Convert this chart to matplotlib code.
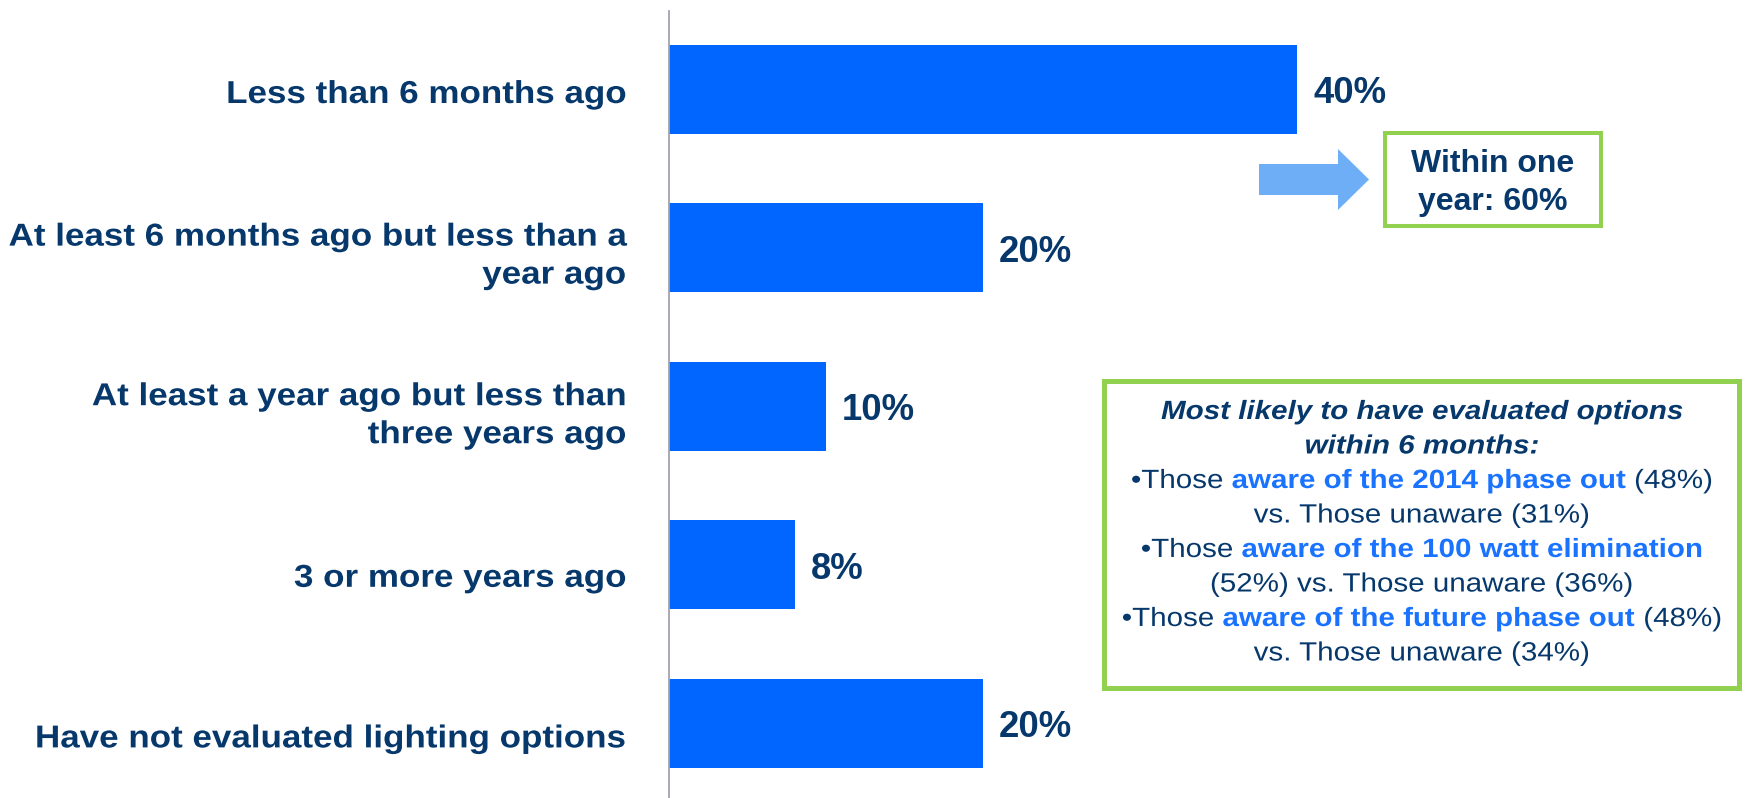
import matplotlib
matplotlib.use("Agg")
import matplotlib.pyplot as plt
from matplotlib.patches import Rectangle, FancyArrow
from matplotlib.patheffects import AbstractPathEffect
from matplotlib.transforms import Affine2D
from matplotlib.font_manager import FontProperties

# ---------------------------------------------------------------- data
categories = [
    "Less than 6 months ago",
    "At least 6 months ago but less than a\nyear ago",
    "At least a year ago but less than\nthree years ago",
    "3 or more years ago",
    "Have not evaluated lighting options",
]
values = [40, 20, 10, 8, 20]

note_title = ["Most likely to have evaluated options", "within 6 months:"]
# each line: list of (text, highlighted?)
note_lines = [
    [("\u2022Those ", False), ("aware of the 2014 phase out ", True), ("(48%)", False)],
    [("vs. Those unaware (31%)", False)],
    [("\u2022Those ", False), ("aware of the 100 watt elimination", True)],
    [("(52%) vs. Those unaware (36%)", False)],
    [("\u2022Those ", False), ("aware of the future phase out ", True), ("(48%)", False)],
    [("vs. Those unaware (34%)", False)],
]

# ---------------------------------------------------------------- style
W, H, DPI = 1745, 798, 100
NAVY = "#06386C"
BAR = "#0066FF"
HILITE = "#1A73FF"
GREEN = "#92D050"
ARROW = "#6DAEF7"
AXIS_GREY = "#A3A3AD"
FONT = "Liberation Sans"


class WidenText(AbstractPathEffect):
    """Stretch rendered text horizontally about a fixed display x."""

    def __init__(self, sx, x0):
        super().__init__()
        self.sx = sx
        self.x0 = x0

    def draw_path(self, renderer, gc, tpath, affine, rgbFace=None):
        stretch = Affine2D().translate(-self.x0, 0).scale(self.sx, 1).translate(self.x0, 0)
        renderer.draw_path(gc, tpath, affine + stretch, rgbFace)


fig = plt.figure(figsize=(W / DPI, H / DPI), dpi=DPI)
fig.patch.set_facecolor("white")

# pixel coordinates, origin at top-left
pix = Affine2D().scale(1 / W, -1 / H).translate(0, 1) + fig.transFigure

# ---------------------------------------------------------------- bars
AX_L, AX_T = 669, 11
PX_PER_PCT = 15.7
ROW0, ROW_STEP = 89, 158.6
BAR_PX = 89

ax = fig.add_axes([AX_L / W, 0, (W - AX_L) / W, (H - AX_T) / H])
ax.set_facecolor("none")
pos = list(range(len(values)))
ax.barh(pos, values, height=BAR_PX / ROW_STEP, color=BAR, zorder=2)
ax.set_xlim(0, (W - AX_L) / PX_PER_PCT)
ax.set_ylim((H - ROW0) / ROW_STEP, (AX_T - ROW0) / ROW_STEP)
for side in ("top", "right", "bottom"):
    ax.spines[side].set_visible(False)
ax.spines["left"].set_color(AXIS_GREY)
ax.spines["left"].set_linewidth(1.3)
ax.set_xticks([])
ax.set_yticks([])

for i, v in zip(pos, values):
    ax.annotate(f"{v}%", xy=(v, i), xytext=(16, -14), textcoords="offset pixels",
                ha="left", va="baseline", fontsize=26.3, fontweight="bold",
                color=NAVY, family=FONT)

# ---------------------------------------------------------------- category labels
LABEL_RIGHT = 626
LABEL_SX = 1.105
LABEL_PITCH = 38
baseline_shift = [14, -2, -1, 22, 24]
for i, (cat, shift) in enumerate(zip(categories, baseline_shift)):
    centre = ROW0 + ROW_STEP * i
    for k, line in enumerate(cat.split("\n")):
        fig.text(LABEL_RIGHT, centre + shift + k * LABEL_PITCH, line, transform=pix,
                 ha="right", va="baseline", fontsize=22.8, fontweight="bold",
                 color=NAVY, family=FONT,
                 path_effects=[WidenText(LABEL_SX, LABEL_RIGHT)])

# ---------------------------------------------------------------- "within one year" call-out
fig.add_artist(FancyArrow(1259, 179.5, 110, 0, width=31, head_width=61, head_length=31,
                          length_includes_head=True, transform=pix,
                          facecolor=ARROW, edgecolor="none"))
fig.add_artist(Rectangle((1385, 133), 216, 93, transform=pix, fill=False,
                         edgecolor=GREEN, linewidth=2.9))
within = values[0] + values[1]
for k, line in enumerate(["Within one", f"year: {within}%"]):
    fig.text(1492.5, 172 + 38 * k, line, transform=pix, ha="center", va="baseline",
             fontsize=23, fontweight="bold", color=NAVY, family=FONT)

# ---------------------------------------------------------------- detail box
BOX_L, BOX_T, BOX_R, BOX_B = 1102, 378, 1742, 690
BORDER = 5
fig.add_artist(Rectangle((BOX_L + BORDER / 2, BOX_T + BORDER / 2),
                         BOX_R - BOX_L - BORDER, BOX_B - BOX_T - BORDER,
                         transform=pix, fill=False, edgecolor=GREEN,
                         linewidth=BORDER * 72 / DPI))

NOTE_SX = 1.12
NOTE_SIZE = 19
NOTE_CX = (BOX_L + BOX_R) / 2
NOTE_BASE0, NOTE_PITCH = 419, 34.5

prop_title = FontProperties(family=FONT, weight="bold", style="italic", size=NOTE_SIZE)
prop_reg = FontProperties(family=FONT, weight="normal", size=NOTE_SIZE)
prop_bold = FontProperties(family=FONT, weight="bold", size=NOTE_SIZE)

renderer = fig.canvas.get_renderer()


def advance(s, prop):
    w_full = renderer.get_text_width_height_descent("|" + s + "|", prop, ismath=False)[0]
    w_bars = renderer.get_text_width_height_descent("||", prop, ismath=False)[0]
    return w_full - w_bars


row = 0
for line in note_title:
    fig.text(NOTE_CX, NOTE_BASE0 + row * NOTE_PITCH, line, transform=pix,
             ha="center", va="baseline", fontproperties=prop_title, color=NAVY,
             path_effects=[WidenText(NOTE_SX, NOTE_CX)])
    row += 1

for segments in note_lines:
    props = [prop_bold if hi else prop_reg for _, hi in segments]
    widths = [advance(t, p) for (t, _), p in zip(segments, props)]
    x = NOTE_CX - NOTE_SX * sum(widths) / 2
    for (text, hi), p, w in zip(segments, props, widths):
        fig.text(x, NOTE_BASE0 + row * NOTE_PITCH, text, transform=pix,
                 ha="left", va="baseline", fontproperties=p,
                 color=HILITE if hi else NAVY,
                 path_effects=[WidenText(NOTE_SX, x)])
        x += NOTE_SX * w
    row += 1

fig.savefig("out.png", dpi=DPI, facecolor="white")
